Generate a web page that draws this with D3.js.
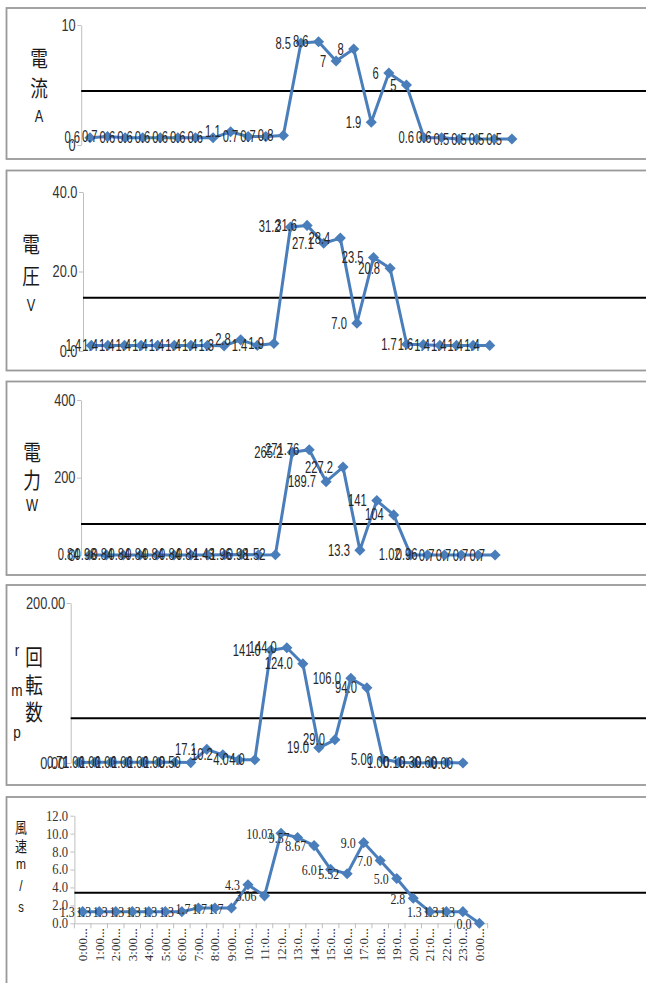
<!DOCTYPE html>
<html>
<head>
<meta charset="utf-8">
<script src="https://cdn.jsdelivr.net/npm/d3@7"></script>
<style>
  body { margin: 0; background: #fff; }
  svg { display: block; }
</style>
</head>
<body>
<svg id="chart" width="646" height="983"></svg>
<script>
// Hourly categories (axis labels as shown, truncated)
const hours = ["0:00...", "1:00...", "2:00...", "3:00...", "4:00...", "5:00...", "6:00...", "7:00...",
  "8:00...", "9:00...", "10:0...", "11:0...", "12:0...", "13:0...", "14:0...", "15:0...", "16:0...",
  "17:0...", "18:0...", "19:0...", "20:0...", "21:0...", "22:0...", "23:0...", "0:00..."];

// Series values, kept as the label strings that are printed next to each point
const currentText = ["0.6", "0.7", "0.6", "0.6", "0.6", "0.6", "0.6", "0.6", "1.1", "0.7", "0.7", "0.8",
  "8.5", "8.6", "7", "8", "1.9", "6", "5", "0.6", "0.6", "0.5", "0.5", "0.5", "0.5"];
const voltageText = ["1.4", "1.4", "1.4", "1.4", "1.4", "1.4", "1.4", "1.4", "1.3", "2.8", "1.4", "1.9",
  "31.2", "31.6", "27.1", "28.4", "7.0", "23.5", "20.8", "1.7", "1.6", "1.4", "1.4", "1.4", "1.4"];
const powerText = ["0.84", "0.98", "0.84", "0.84", "0.84", "0.84", "0.84", "0.84", "1.43", "1.96", "0.98", "1.52",
  "265.2", "271.76", "189.7", "227.2", "13.3", "141", "104", "1.02", "0.96", "0.7", "0.7", "0.7", "0.7"];
const rpmText = ["0.71", "1.00", "1.00", "1.00", "1.00", "1.00", "1.00", "0.50", "17.1", "10.2", "4.0", "4.0",
  "141.0", "144.0", "124.0", "19.0", "29.0", "106.0", "94.0", "5.00", "1.00", "0.10", "0.30", "0.60", "0.00"];
const windText = ["1.3", "1.3", "1.3", "1.3", "1.3", "1.3", "1.3", "1.7", "1.7", "1.7", "4.3", "3.06",
  "10.03", "9.57", "8.67", "6.01", "5.52", "9.0", "7.0", "5.0", "2.8", "1.3", "1.3", "1.3", "0.0"];

// Y tick labels per panel
const currentTicks = ["0", "10"];
const voltageTicks = ["0.0", "20.0", "40.0"];
const powerTicks = ["0", "200", "400"];
const rpmTicks = ["0.00", "200.00"];
const windTicks = ["0.0", "2.0", "4.0", "6.0", "8.0", "10.0", "12.0"];

// Horizontal reference levels (current, voltage, power, rpm, wind)
const guideLevels = [4.5, 13.4, 80.6, 56, 3.4];

const BLUE = "#4a7ebb";
const SANS = "'Liberation Sans', Arial, sans-serif";
const SERIF = "'Liberation Serif', 'Times New Roman', serif";
const CJK = "'Noto Sans CJK JP', 'Noto Sans CJK SC', sans-serif";

const svg = d3.select("#chart");
const idx = d3.range(hours.length);

const panels = [
  { text: currentText, ticks: currentTicks, max: 10, guide: guideLevels[0],
    frame: [8, 159], yr: [145, 25], x0: 81.2, step: 17.58,
    font: SANS, fsize: 16, sx: 0.7, tfs: 16, tsx: 0.8, gap: 10,
    title: [["電", 39, 57, 22, CJK], ["流", 39, 87, 22, CJK], ["A", 39, 116, 16, SANS]] },
  { text: voltageText, ticks: voltageTicks, max: 40, guide: guideLevels[1],
    frame: [170.5, 370.5], yr: [351, 192], x0: 83.0, step: 16.6,
    font: SANS, fsize: 16, sx: 0.7, tfs: 16, tsx: 0.8, gap: 10,
    title: [["電", 31, 243, 22, CJK], ["圧", 31, 275, 22, CJK], ["V", 31, 305, 16, SANS]] },
  { text: powerText, ticks: powerTicks, max: 400, guide: guideLevels[2],
    frame: [381.5, 575], yr: [555.3, 400], x0: 81.05, step: 16.9,
    font: SANS, fsize: 16, sx: 0.7, tfs: 16, tsx: 0.8, gap: 10,
    title: [["電", 32, 451, 22, CJK], ["力", 32, 479, 22, CJK], ["W", 32, 505, 16, SANS]] },
  { text: rpmText, ticks: rpmTicks, max: 200, guide: guideLevels[3],
    frame: [585, 785], yr: [763, 603], x0: 70.7, step: 16.01,
    font: SANS, fsize: 16, sx: 0.7, tfs: 16, tsx: 0.8, gap: 10,
    title: [["r", 17, 650, 17, SANS], ["m", 17, 690, 17, SANS], ["p", 17, 732, 17, SANS],
            ["回", 34, 656, 22, CJK], ["転", 34, 684, 22, CJK], ["数", 34, 711, 22, CJK]] },
  { text: windText, ticks: windTicks, max: 12, guide: guideLevels[4],
    frame: [797, 1000], yr: [923.3, 815.7], x0: 74.4, step: 16.53,
    font: SERIF, fsize: 14, sx: 0.85, tfs: 14, tsx: 0.9, gap: 8, xAxis: true,
    title: [["風", 21, 826, 15, CJK], ["速", 21, 845, 15, CJK], ["m", 21, 864, 15, SANS],
            ["/", 21, 886, 15, SANS], ["s", 21, 908, 14, SANS]] }
];

panels.forEach(P => {
  const g = svg.append("g");
  const values = P.text.map(Number);

  // frame
  g.append("rect")
    .attr("x", 6.5).attr("y", P.frame[0])
    .attr("width", 700).attr("height", P.frame[1] - P.frame[0])
    .attr("fill", "#fff").attr("stroke", "#9a9a9a").attr("stroke-width", 1.8);

  const x = d3.scaleBand().domain(idx).range([P.x0, P.x0 + P.step * idx.length]);
  const cx = i => x(i) + x.bandwidth() / 2;
  const y = d3.scaleLinear().domain([0, P.max]).range(P.yr);

  // y axis
  const ax = g.append("g")
    .attr("transform", `translate(${P.x0},0)`)
    .call(d3.axisLeft(y)
      .tickValues(P.ticks.map(Number))
      .tickFormat((d, i) => P.ticks[i])
      .tickSize(4).tickSizeOuter(0));
  ax.select(".domain").attr("stroke", "#bfbfbf");
  ax.selectAll(".tick line").attr("stroke", "#bfbfbf");
  ax.selectAll(".tick text")
    .attr("fill", "#333")
    .style("font-family", P.font).style("font-size", P.tfs + "px")
    .attr("transform", `scale(${P.tsx},1)`);

  // category axis with tick marks between categories
  if (P.xAxis) {
    const xa = g.append("g")
      .attr("transform", `translate(0,${y(0)})`)
      .call(d3.axisBottom(x).tickFormat(i => hours[i]).tickSize(0).tickSizeOuter(0));
    xa.select(".domain").attr("stroke", "#bfbfbf");
    xa.selectAll(".tick text")
      .attr("fill", "#333")
      .style("font-family", SERIF).style("font-size", "13px")
      .attr("text-anchor", "end")
      .attr("dy", "0.35em")
      .attr("transform", "translate(0,5) rotate(-90)")
      .attr("x", 0).attr("y", 0);
    g.append("g").selectAll("line")
      .data(d3.range(idx.length + 1))
      .join("line")
      .attr("x1", i => P.x0 + i * P.step).attr("x2", i => P.x0 + i * P.step)
      .attr("y1", y(0)).attr("y2", y(0) + 5)
      .attr("stroke", "#bfbfbf");
  }

  // reference level
  g.append("line")
    .attr("x1", P.x0).attr("x2", 660)
    .attr("y1", y(P.guide)).attr("y2", y(P.guide))
    .attr("stroke", "#000").attr("stroke-width", 2);

  // series line
  g.append("path")
    .datum(values)
    .attr("fill", "none")
    .attr("stroke", BLUE).attr("stroke-width", 3)
    .attr("stroke-linejoin", "round")
    .attr("d", d3.line().x((d, i) => cx(i)).y(d => y(d)));

  // diamond markers
  g.append("g").selectAll("path")
    .data(values)
    .join("path")
    .attr("d", d3.symbol(d3.symbolSquare, 62))
    .attr("transform", (d, i) => `translate(${cx(i)},${y(d)}) rotate(45)`)
    .attr("fill", BLUE);

  // data labels, left of each point
  g.append("g").selectAll("text")
    .data(P.text)
    .join("text")
    .attr("transform", (t, i) => `translate(${cx(i) - P.gap},${y(values[i]) + 5.5}) scale(${P.sx},1)`)
    .attr("text-anchor", "end")
    .attr("fill", "#262626")
    .style("font-family", P.font).style("font-size", P.fsize + "px")
    .text(t => t);

  // stacked axis title
  g.append("g").selectAll("text")
    .data(P.title)
    .join("text")
    .attr("transform", d => `translate(${d[1]},${d[2]}) scale(0.8,1)`)
    .attr("text-anchor", "middle")
    .attr("dominant-baseline", "central")
    .attr("fill", "#1a1a1a")
    .style("font-family", d => d[4]).style("font-size", d => d[3] + "px")
    .text(d => d[0]);
});
</script>
</body>
</html>
